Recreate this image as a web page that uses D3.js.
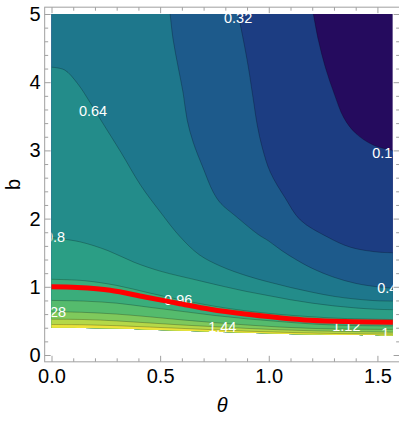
<!DOCTYPE html>
<html>
<head>
<meta charset="utf-8">
<title>Contour b vs theta</title>
<script src="https://cdn.jsdelivr.net/npm/d3@7"></script>
<style>
  body { margin: 0; background: #fff; }
  text { font-family: "Liberation Sans", Arial, sans-serif; }
  .frame { fill: none; stroke: #a0a0a0; stroke-width: 1; }
  .axis path { display: none; }
  .axis line { stroke: #a0a0a0; }
  .axis text { fill: #000; font-size: 20px; }
  .contour { fill: none; stroke: #000; stroke-opacity: 0.3; stroke-width: 0.8; }
  .clabel { fill: #fff; font-size: 14.5px; text-anchor: middle; }
  .red { fill: none; stroke: #ff0000; stroke-width: 5; }
</style>
</head>
<body>
<div id="chart"></div>
<script>
var width = 399, height = 421;

// ticks
var thetaTicks = [0, 0.5, 1, 1.5];
var thetaMinor = [0.1, 0.2, 0.3, 0.4, 0.6, 0.7, 0.8, 0.9, 1.1, 1.2, 1.3, 1.4, 1.6];
var bTicks = [0, 1, 2, 3, 4, 5];
var bMinor = [0.2, 0.4, 0.6, 0.8, 1.2, 1.4, 1.6, 1.8, 2.2, 2.4, 2.6, 2.8, 3.2, 3.4, 3.6, 3.8, 4.2, 4.4, 4.6, 4.8];

// contour levels and the lines, as [theta, b]
var levels = [0.16, 0.32, 0.48, 0.64, 0.8, 0.96, 1.12, 1.28, 1.44, 1.6];
var c016 = [[1.205, 5.0], [1.228, 4.62], [1.26, 4.22], [1.30, 3.84], [1.345, 3.48], [1.40, 3.25], [1.48, 3.08], [1.571, 3.0]];
var c032 = [[0.859, 5.0], [0.883, 4.62], [0.906, 4.22], [0.929, 3.74], [0.947, 3.37], [0.97, 3.04], [1.007, 2.68], [1.076, 2.30], [1.145, 1.98], [1.27, 1.73], [1.376, 1.58], [1.50, 1.51], [1.571, 1.50]];
var c048 = [[0.546, 5.0], [0.56, 4.62], [0.583, 4.22], [0.606, 3.84], [0.624, 3.45], [0.652, 3.12], [0.698, 2.74], [0.744, 2.39], [0.78, 2.22], [0.846, 2.04], [0.95, 1.77], [1.0, 1.67], [1.06, 1.53], [1.13, 1.39], [1.2, 1.27], [1.3, 1.14], [1.4, 1.05], [1.5, 1.0], [1.571, 0.98]];
var c064 = [[0, 4.22], [0.06, 4.18], [0.12, 3.98], [0.18, 3.69], [0.23, 3.43], [0.32, 2.97], [0.41, 2.49], [0.5, 2.10], [0.59, 1.74], [0.68, 1.47], [0.78, 1.30], [0.9, 1.16], [1.0, 1.07], [1.1, 0.99], [1.2, 0.92], [1.3, 0.86], [1.4, 0.82], [1.5, 0.795], [1.571, 0.79]];
var c080 = [[0, 1.72], [0.13, 1.66], [0.26, 1.53], [0.38, 1.36], [0.5, 1.23], [0.68, 1.09], [0.8, 1.0], [0.9, 0.93], [1.0, 0.87], [1.1, 0.81], [1.2, 0.76], [1.3, 0.72], [1.4, 0.69], [1.5, 0.67], [1.571, 0.665]];
var c096 = [[0, 1.11], [0.15, 1.09], [0.3, 1.02], [0.45, 0.91], [0.6, 0.805], [0.75, 0.715], [0.9, 0.645], [1.05, 0.595], [1.2, 0.56], [1.35, 0.535], [1.571, 0.52]];
var c112 = [[0, 0.80], [0.15, 0.79], [0.3, 0.76], [0.45, 0.70], [0.6, 0.64], [0.75, 0.58], [0.9, 0.53], [1.05, 0.49], [1.2, 0.455], [1.35, 0.435], [1.571, 0.425]];
var c128 = [[0, 0.635], [0.15, 0.625], [0.3, 0.60], [0.45, 0.56], [0.6, 0.515], [0.75, 0.475], [0.9, 0.44], [1.05, 0.41], [1.2, 0.39], [1.35, 0.38], [1.571, 0.375]];
var c144 = [[0, 0.525], [0.15, 0.52], [0.3, 0.50], [0.45, 0.47], [0.6, 0.44], [0.75, 0.415], [0.9, 0.39], [1.05, 0.37], [1.2, 0.355], [1.35, 0.345], [1.571, 0.335]];
var c160 = [[0, 0.447], [0.15, 0.443], [0.3, 0.43], [0.45, 0.41], [0.6, 0.39], [0.75, 0.37], [0.9, 0.35], [1.05, 0.335], [1.2, 0.322], [1.35, 0.313], [1.571, 0.305]];
// lower edge of the plotted region
var lowerEdge = [[0, 0.40], [0.15, 0.397], [0.3, 0.387], [0.45, 0.372], [0.6, 0.357], [0.75, 0.342], [0.9, 0.325], [1.05, 0.312], [1.2, 0.30], [1.35, 0.292], [1.571, 0.285]];
// red curve
var redCurve = [[0, 1.0], [0.12, 0.99], [0.27, 0.95], [0.43, 0.85], [0.58, 0.76], [0.73, 0.67], [0.89, 0.60], [1.04, 0.55], [1.19, 0.51], [1.35, 0.49], [1.571, 0.48]];

// contour labels
var labelText = ["0.16", "0.32", "0.48", "0.64", "0.8", "0.96", "1.28", "1.44", "1.12", "1.44"];
var labelTheta = [1.541, 0.859, 1.564, 0.191, 0.016, 0.583, 0.002, 0.786, 1.357, 1.583];
var labelB = [2.96, 4.94, 0.98, 3.58, 1.73, 0.81, 0.63, 0.41, 0.433, 0.32];

var bandColors = ["#250b5e", "#1c3d82", "#1d5a8b", "#1e778c", "#238c8a", "#2b9e85", "#3aad7b", "#55bb6d", "#7fc95c", "#b5d848", "#ece33a"];

var contours = [c016, c032, c048, c064, c080, c096, c112, c128, c144, c160];

var x = d3.scaleLinear().domain([0, Math.PI / 2]).range([51.5, 392.8]);
var y = d3.scaleLinear().domain([0, 5]).range([355, 14]);

var fx0 = x(-0.0314), fx1 = x(1.6022), fy0 = y(5.1), fy1 = y(-0.1);

var svg = d3.select('#chart').append('svg')
  .attr('width', width)
  .attr('height', height);

var line = d3.line()
  .x(function (d) { return x(d[0]); })
  .y(function (d) { return y(d[1]); })
  .curve(d3.curveCatmullRom.alpha(0.5));

var defs = svg.append('defs');
var edgePath = line(lowerEdge.slice().reverse()).replace('M', 'L');
defs.append('clipPath').attr('id', 'region')
  .append('path')
  .attr('d', 'M' + x(0) + ',' + y(5) + 'L' + x(Math.PI / 2) + ',' + y(5) + edgePath + 'Z');
defs.append('clipPath').attr('id', 'plotbox')
  .append('rect')
  .attr('x', x(0)).attr('y', y(5))
  .attr('width', x(Math.PI / 2) - x(0)).attr('height', y(0) - y(5));

var plot = svg.append('g').attr('clip-path', 'url(#region)');

plot.append('rect')
  .attr('x', x(0)).attr('y', y(5.2))
  .attr('width', x(Math.PI / 2) - x(0)).attr('height', y(-1) - y(5.2))
  .attr('fill', bandColors[0]);

contours.forEach(function (c, i) {
  var last = c[c.length - 1];
  var d = line(c);
  d += 'L' + x(1.7) + ',' + y(last[1]) + 'L' + x(1.7) + ',' + y(-1) + 'L' + x(-0.1) + ',' + y(-1);
  if (c[0][1] >= 5) {
    d += 'L' + x(-0.1) + ',' + y(5.2) + 'L' + x(c[0][0]) + ',' + y(5.2);
  } else {
    d += 'L' + x(-0.1) + ',' + y(c[0][1]);
  }
  plot.append('path').attr('d', d + 'Z').attr('fill', bandColors[i + 1]);
});

plot.selectAll('path.contour')
  .data(contours)
  .enter().append('path')
  .attr('class', 'contour')
  .attr('d', line);

// labels
svg.append('g').attr('clip-path', 'url(#plotbox)')
  .selectAll('text')
  .data(labelText)
  .enter().append('text')
  .attr('class', 'clabel')
  .attr('x', function (d, i) { return x(labelTheta[i]); })
  .attr('y', function (d, i) { return y(labelB[i]); })
  .attr('dy', '0.36em')
  .text(function (d) { return d; });

svg.append('path')
  .attr('class', 'red')
  .attr('d', line(redCurve));

// frame and ticks
svg.append('rect').attr('class', 'frame')
  .attr('x', fx0).attr('y', fy0)
  .attr('width', fx1 - fx0).attr('height', fy1 - fy0);

var fmt = d3.format('.1f');
svg.append('g').attr('class', 'axis')
  .attr('transform', 'translate(0,' + fy1 + ')')
  .call(d3.axisBottom(x).tickValues(thetaTicks).tickSize(-6).tickPadding(7).tickFormat(fmt));
svg.append('g').attr('class', 'axis')
  .attr('transform', 'translate(0,' + fy1 + ')')
  .call(d3.axisBottom(x).tickValues(thetaMinor).tickSize(-3.5).tickFormat(''));
svg.append('g').attr('class', 'axis')
  .attr('transform', 'translate(0,' + fy0 + ')')
  .call(d3.axisTop(x).tickValues(thetaTicks).tickSize(-6).tickFormat(''));
svg.append('g').attr('class', 'axis')
  .attr('transform', 'translate(0,' + fy0 + ')')
  .call(d3.axisTop(x).tickValues(thetaMinor).tickSize(-3.5).tickFormat(''));

svg.append('g').attr('class', 'axis')
  .attr('transform', 'translate(' + fx0 + ',0)')
  .call(d3.axisLeft(y).tickValues(bTicks).tickSize(-6).tickPadding(4).tickFormat(d3.format('d')));
svg.append('g').attr('class', 'axis')
  .attr('transform', 'translate(' + fx0 + ',0)')
  .call(d3.axisLeft(y).tickValues(bMinor).tickSize(-3.5).tickFormat(''));
svg.append('g').attr('class', 'axis')
  .attr('transform', 'translate(' + fx1 + ',0)')
  .call(d3.axisRight(y).tickValues(bTicks).tickSize(-6).tickFormat(''));
svg.append('g').attr('class', 'axis')
  .attr('transform', 'translate(' + fx1 + ',0)')
  .call(d3.axisRight(y).tickValues(bMinor).tickSize(-3.5).tickFormat(''));

// axis titles
svg.append('text')
  .attr('x', (fx0 + fx1) / 2).attr('y', 405)
  .attr('dy', '0.35em')
  .attr('text-anchor', 'middle')
  .style('font-size', '20px').style('font-style', 'italic')
  .text('θ');
svg.append('text')
  .attr('transform', 'translate(13,' + ((fy0 + fy1) / 2) + ') rotate(-90)')
  .attr('dy', '0.35em')
  .attr('text-anchor', 'middle')
  .style('font-size', '20px')
  .text('b');
</script>
</body>
</html>
